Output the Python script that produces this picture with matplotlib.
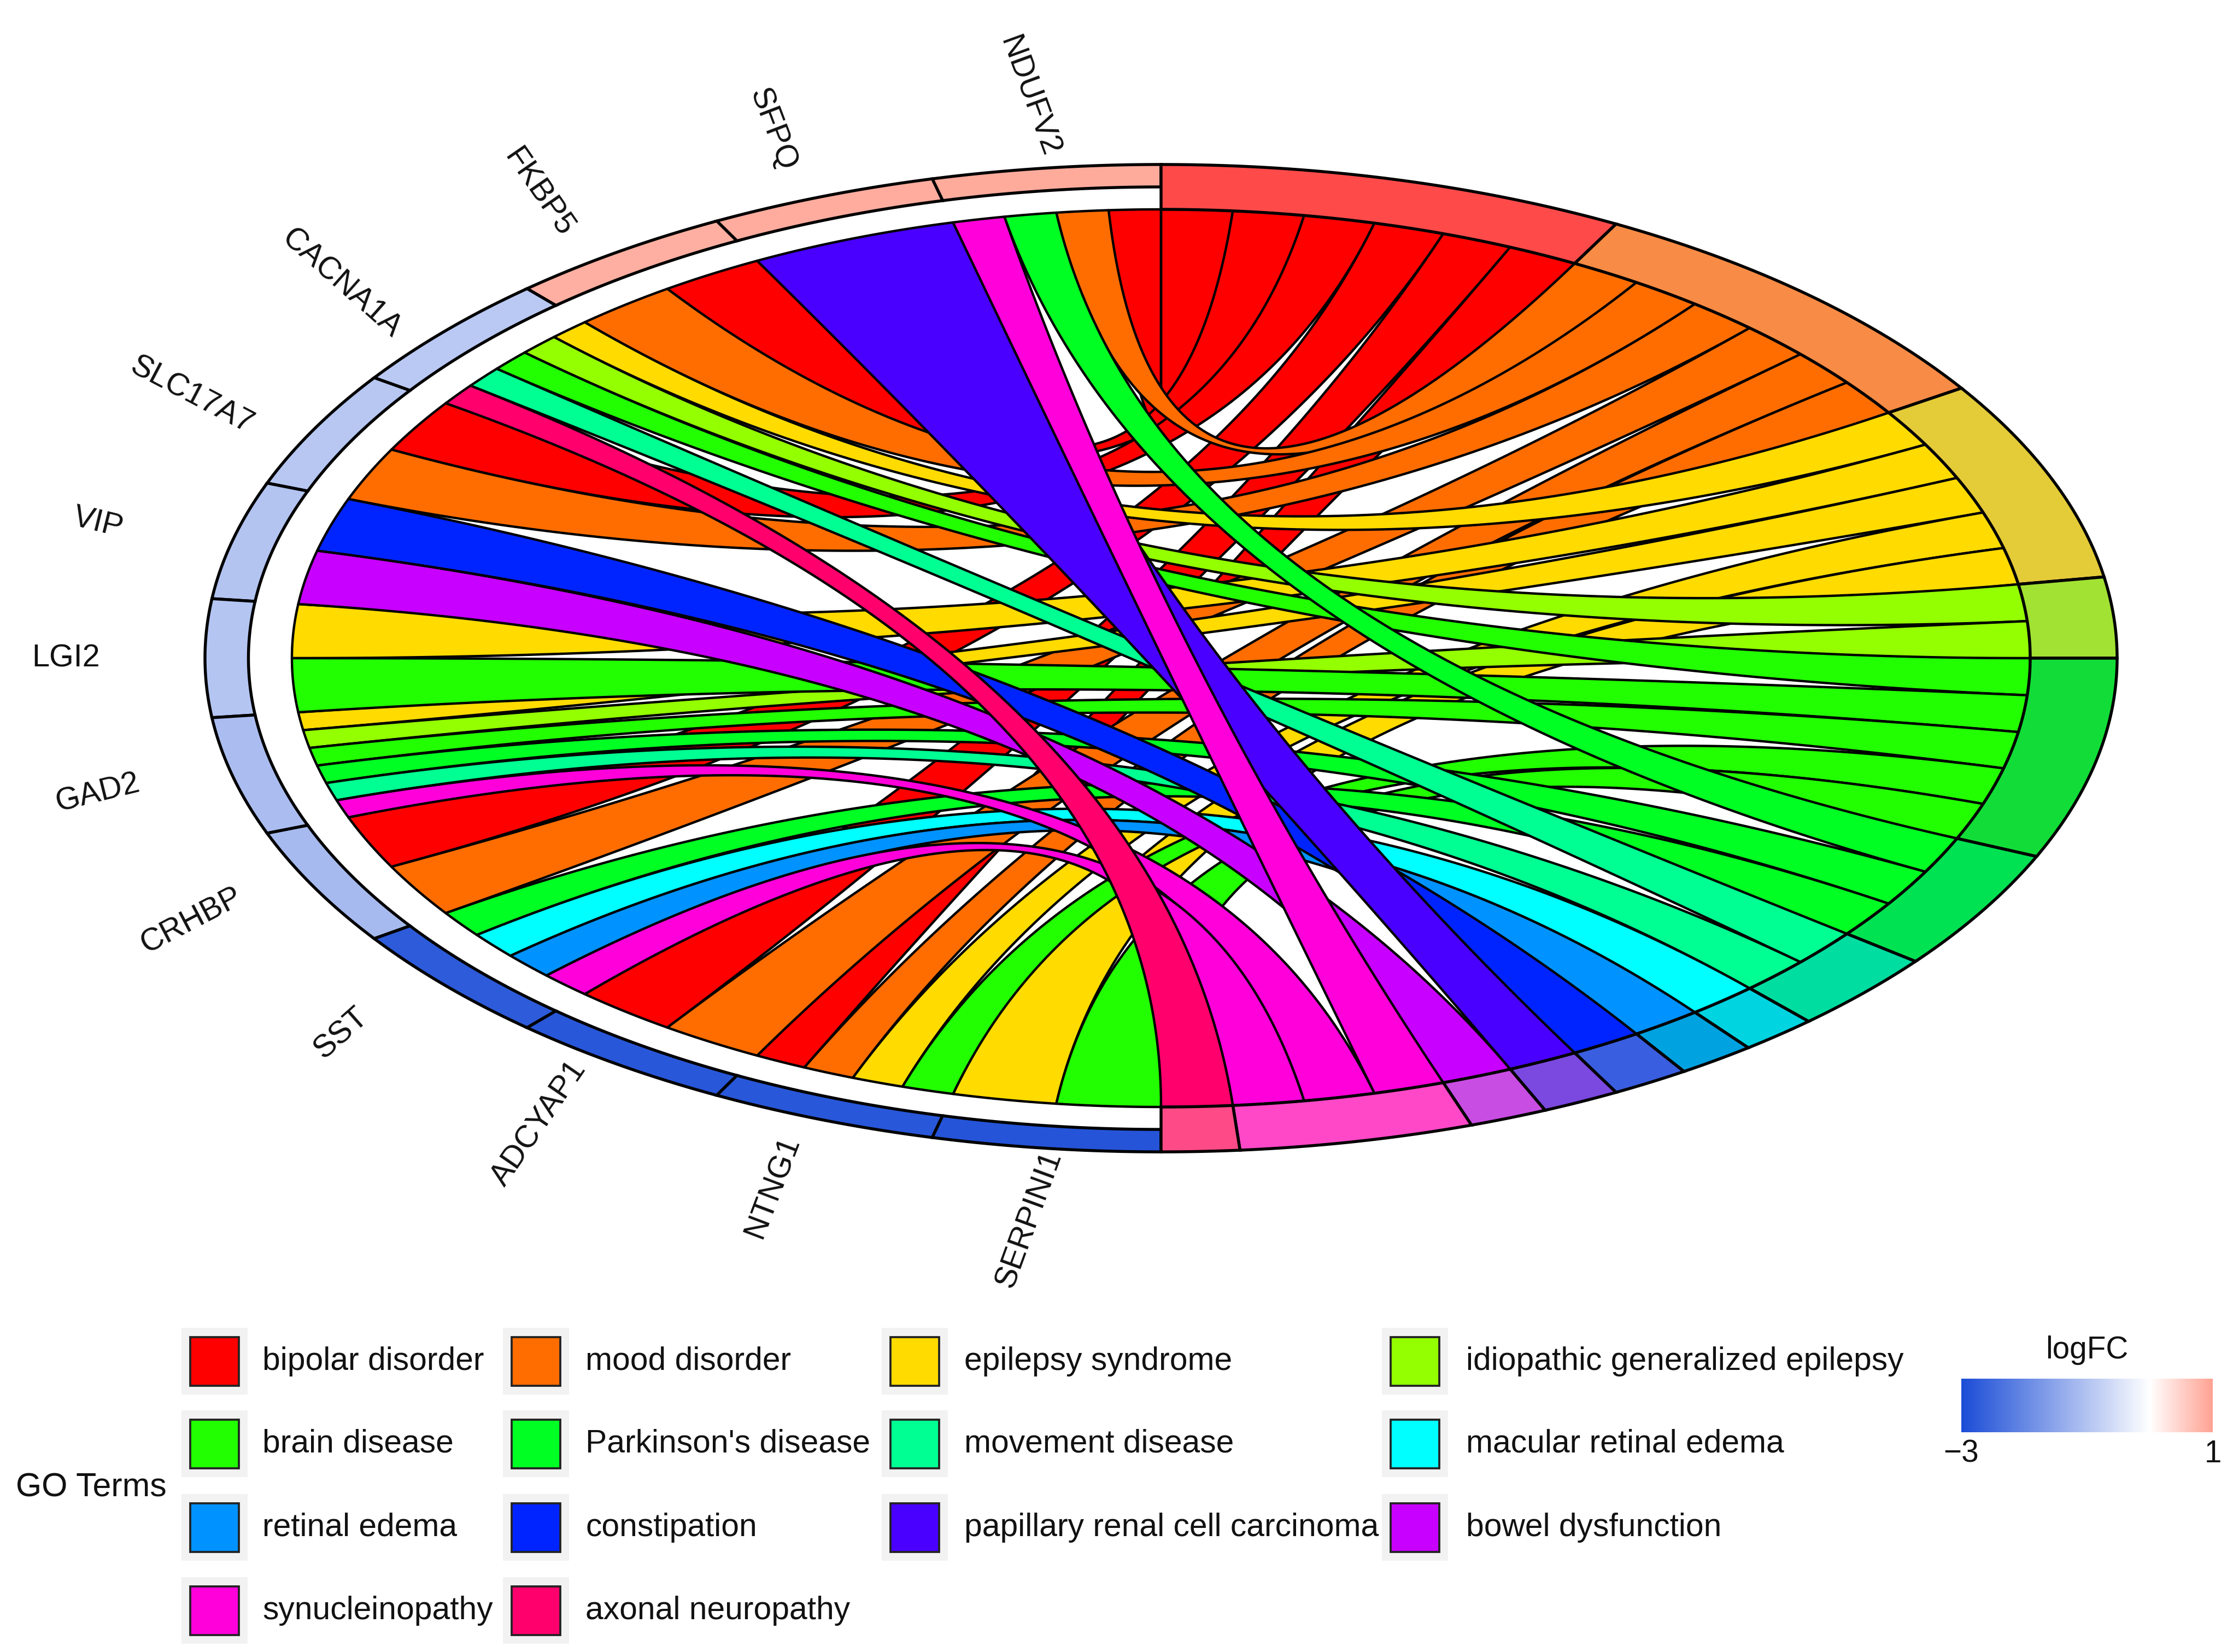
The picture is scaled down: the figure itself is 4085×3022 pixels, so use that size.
import numpy as np
import matplotlib
matplotlib.use('Agg')
import matplotlib.pyplot as plt
from matplotlib.patches import Polygon, Rectangle
from matplotlib.colors import LinearSegmentedColormap, Normalize
from matplotlib.cm import ScalarMappable

plt.rcParams['font.family'] = ['Liberation Sans', 'DejaVu Sans']

# genes (left half, from the top going down) and their logFC
genes = ['NDUFV2', 'SFPQ', 'FKBP5', 'CACNA1A', 'SLC17A7', 'VIP', 'LGI2',
         'GAD2', 'CRHBP', 'SST', 'ADCYAP1', 'NTNG1', 'SERPINI1']
logfc = [0.9, 0.88, 0.85, -0.9, -0.95, -1.0, -0.98, -1.1, -1.15,
         -2.75, -2.8, -2.8, -2.85]

# terms (right half, from the top going down)
terms = ['bipolar disorder', 'mood disorder', 'epilepsy syndrome',
         'idiopathic generalized epilepsy', 'brain disease', "Parkinson's disease",
         'movement disease', 'macular retinal edema', 'retinal edema', 'constipation',
         'papillary renal cell carcinoma', 'bowel dysfunction', 'synucleinopathy',
         'axonal neuropathy']

# which terms each gene belongs to
gene_terms = [
    ['bipolar disorder', 'mood disorder', "Parkinson's disease", 'synucleinopathy'],
    ['papillary renal cell carcinoma'],
    ['bipolar disorder', 'mood disorder'],
    ['epilepsy syndrome', 'idiopathic generalized epilepsy', 'brain disease',
     'movement disease', 'axonal neuropathy'],
    ['bipolar disorder', 'mood disorder'],
    ['constipation', 'bowel dysfunction'],
    ['epilepsy syndrome', 'brain disease'],
    ['epilepsy syndrome', 'idiopathic generalized epilepsy', 'brain disease',
     "Parkinson's disease", 'movement disease', 'synucleinopathy'],
    ['bipolar disorder', 'mood disorder'],
    ["Parkinson's disease", 'macular retinal edema', 'retinal edema', 'synucleinopathy'],
    ['bipolar disorder', 'mood disorder'],
    ['bipolar disorder', 'mood disorder', 'epilepsy syndrome', 'brain disease'],
    ['epilepsy syndrome', 'brain disease'],
]

# colours
rib_cols = ['#FF0000', '#FF6D00', '#FFDB00', '#94FF00', '#22FF00', '#00FF22',
            '#00FF92', '#00FFFF', '#0092FF', '#0024FF', '#4900FF', '#C800FF',
            '#FF00DB', '#FF006D']
ring_cols = ['#FF4A4A', '#F88B45', '#E4CB38', '#A2E232', '#12DD38', '#00E252',
             '#00DDA0', '#00D4E0', '#00A2E0', '#3A5EE0', '#7B48E0', '#C84DE3',
             '#FF48C8', '#FF4A88']
cmap = LinearSegmentedColormap.from_list(
    'lfc', [(0.0, '#1A4CD6'), (0.75, '#FFFFFF'), (1.0, '#FFA292')])
norm = Normalize(vmin=-3, vmax=1)

W, H = 4086, 3022
fig = plt.figure(figsize=(W / 300, H / 300), dpi=300)

# main chord axes, stretched into an ellipse like the original
cx, cy = 2124, 1204
sx, sy = 1590, 821
top_h = 2350
ax = fig.add_axes([0, 1 - top_h / H, 1, top_h / H])
ax.set_xlim(-cx / sx, (W - cx) / sx)
ax.set_ylim((cy - top_h) / sy, cy / sy)
ax.axis('off')


def pt(a, r=1.0):
    return np.array([r * np.sin(a), r * np.cos(a)])


def arc(a0, a1, r=1.0, n=60):
    a = np.linspace(a0, a1, n)
    return np.column_stack([r * np.sin(a), r * np.cos(a)])


def bez(p0, p2, n=120):
    # quadratic bezier with the centre as control point
    t = np.linspace(0, 1, n)[:, None]
    return (1 - t) ** 2 * p0 + t ** 2 * p2


n_links = sum(len(gt) for gt in gene_terms)
wg = np.pi / len(genes)
wt = np.pi / n_links

term_start = []
acc = 0
for t in terms:
    term_start.append(acc)
    acc += sum(t in gt for gt in gene_terms)

gene_end = {}
for k, gt in enumerate(gene_terms):
    step = wg / len(gt)
    for i, t in enumerate(gt):
        a0 = -(k * wg + i * step)
        gene_end[(k, t)] = (a0, a0 - step)

# ribbons
for j, t in enumerate(terms):
    l = 0
    for k, gt in enumerate(gene_terms):
        if t not in gt:
            continue
        ga, gb = gene_end[(k, t)]
        ta = (term_start[j] + l) * wt
        tb = ta + wt
        l += 1
        poly = np.vstack([arc(ga, gb), bez(pt(gb), pt(tb)),
                          arc(tb, ta), bez(pt(ta), pt(ga))])
        ax.add_patch(Polygon(poly, closed=True, fc=rib_cols[j], ec='black',
                             lw=1.05, joinstyle='round', zorder=2))

# gene ring
for k, g in enumerate(genes):
    a0, a1 = -k * wg, -(k + 1) * wg
    poly = np.vstack([arc(a0, a1, 1.10), arc(a1, a0, 1.05)])
    ax.add_patch(Polygon(poly, closed=True, fc=cmap(norm(logfc[k])), ec='black',
                         lw=1.3, zorder=3))
    am = -(k + 0.5) * wg
    x, y = pt(am, 1.26)
    rot = np.clip(-90 - np.degrees(am), -70, 70)
    ax.text(x, y, g, rotation=rot, rotation_mode='anchor', ha='center',
            va='center', fontsize=13.8, color='#111111')

# term ring
for j, t in enumerate(terms):
    cnt = sum(t in gt for gt in gene_terms)
    a0, a1 = term_start[j] * wt, (term_start[j] + cnt) * wt
    poly = np.vstack([arc(a0, a1, 1.10), arc(a1, a0, 1.0)])
    ax.add_patch(Polygon(poly, closed=True, fc=ring_cols[j], ec='black',
                         lw=1.3, zorder=3))

# legend (4 columns, filled by row)
lax = fig.add_axes([0, 0, 1, 1], zorder=-1)
lax.set_xlim(0, W)
lax.set_ylim(H, 0)
lax.axis('off')
key_x = [392, 980, 1673, 2588]
text_x = [480, 1071, 1764, 2682]
row_y = [2490, 2641, 2794, 2946]
for j, t in enumerate(terms):
    r, c = divmod(j, 4)
    kx, ky = key_x[c], row_y[r]
    lax.add_patch(Rectangle((kx - 60, ky - 61), 121, 122, fc='#F2F2F2', ec='none'))
    lax.add_patch(Rectangle((kx - 44, ky - 44), 89, 89, fc=rib_cols[j],
                            ec='#222222', lw=0.9))
    lax.text(text_x[c], ky, t, ha='left', va='center', fontsize=14.1,
             color='#111111')
lax.text(29, 2722, 'GO Terms', ha='left', va='center', fontsize=14.6,
         color='#111111')

# logFC colourbar
cax = fig.add_axes([3588 / W, 1 - 2620 / H, 460 / W, 98 / H])
cb = fig.colorbar(ScalarMappable(norm=norm, cmap=cmap), cax=cax,
                  orientation='horizontal')
cb.set_ticks([-3, 1])
cb.outline.set_visible(False)
cax.tick_params(length=0, labelsize=13.6, pad=3, colors='#111111')
cax.set_title('logFC', fontsize=13.6, pad=9, color='#111111')

fig.savefig('out.png', dpi=300, facecolor='white')
